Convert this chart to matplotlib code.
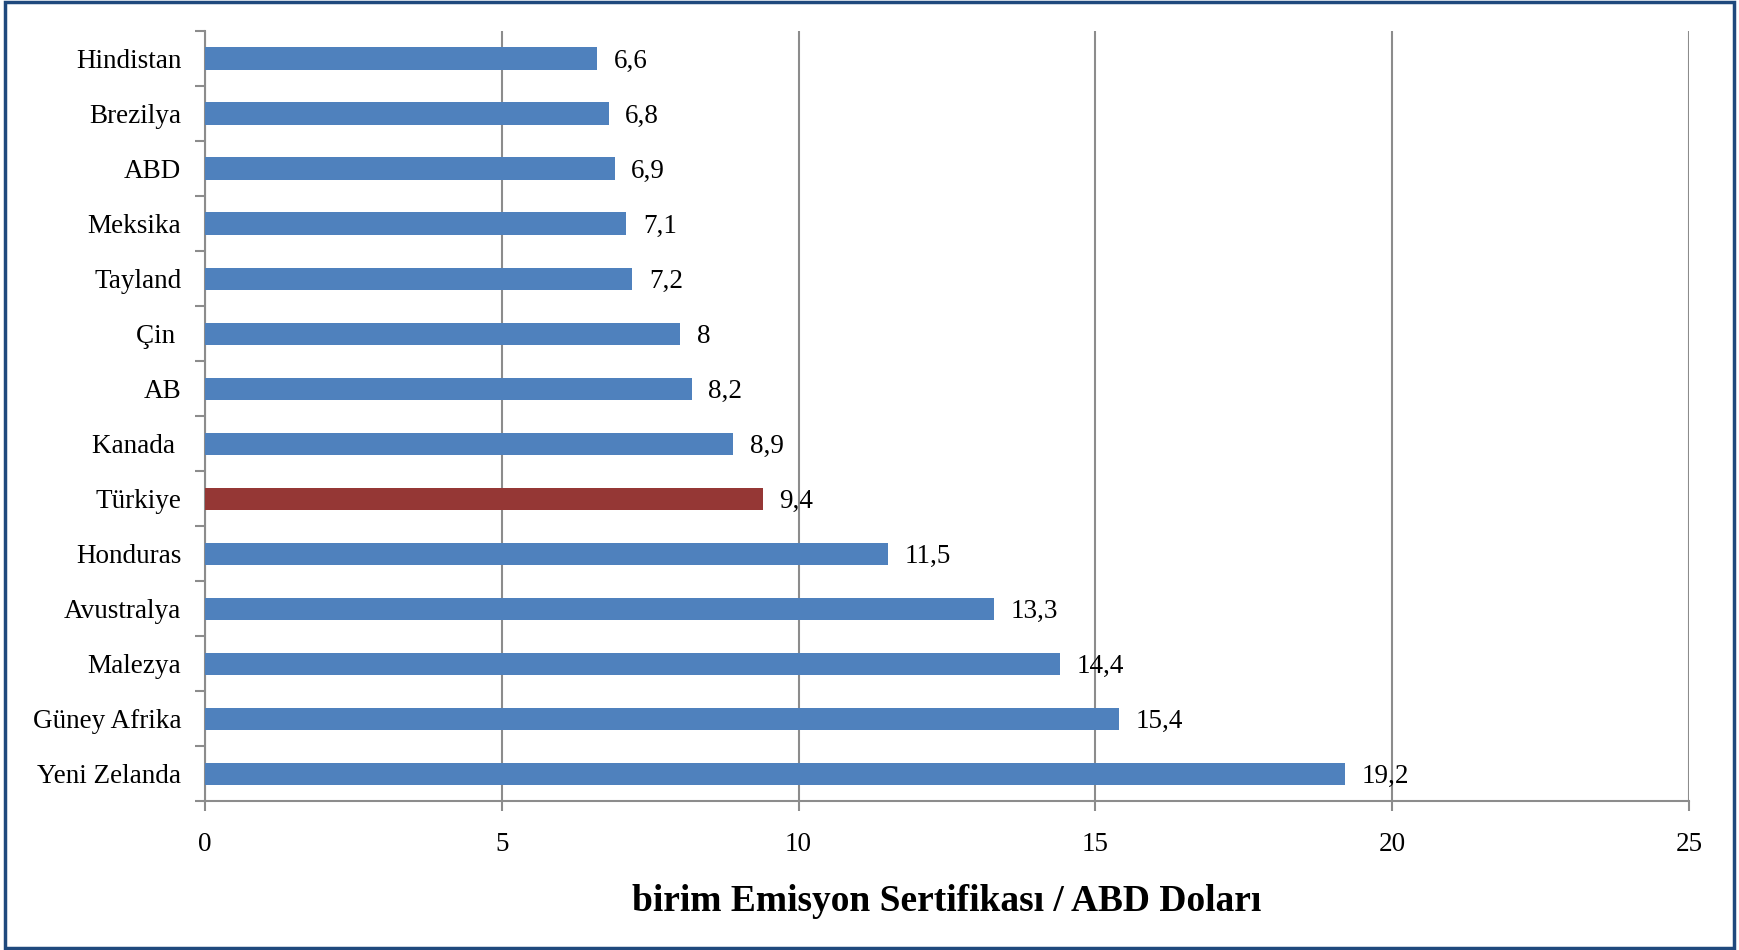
import matplotlib.pyplot as plt
import numpy as np

countries = ['Hindistan', 'Brezilya', 'ABD', 'Meksika', 'Tayland', 'Çin ', 'AB',
             'Kanada ', 'Türkiye', 'Honduras', 'Avustralya', 'Malezya',
             'Güney Afrika', 'Yeni Zelanda']
values = [6.6, 6.8, 6.9, 7.1, 7.2, 8, 8.2, 8.9, 9.4, 11.5, 13.3, 14.4, 15.4, 19.2]
highlight = 'Türkiye'
x_ticks = [0, 5, 10, 15, 20, 25]

plt.rcParams['font.family'] = ['Liberation Serif', 'DejaVu Serif']

fig = plt.figure(figsize=(17.39, 9.5), dpi=100)
ax = fig.add_axes([205 / 1739, 1 - 801 / 950, (1689 - 205) / 1739, (801 - 31) / 950])

n = len(countries)
ypos = np.arange(n)[::-1]
colors = ['#953735' if c == highlight else '#4F81BD' for c in countries]
ax.barh(ypos, values, height=0.4, color=colors, zorder=3)

for y, v in zip(ypos, values):
    ax.text(v + 0.28, y, f'{v:g}'.replace('.', ','), va='center_baseline', ha='left',
            fontsize=19.5, zorder=4)

ax.set_xlim(0, 25)
ax.set_ylim(-0.5, n - 0.5)
ax.set_xticks(x_ticks)
ax.set_xticklabels([str(t) for t in x_ticks], fontsize=19.5)
ax.set_yticks(ypos)
ax.set_yticklabels(countries, fontsize=19.5)
ax.set_yticks(np.arange(-0.5, n, 1), minor=True)
ax.tick_params(axis='y', which='major', length=0, pad=17)
ax.tick_params(axis='y', which='minor', length=7, width=1.5, color='#8c8c8c')
ax.tick_params(axis='x', which='major', length=7, width=1.5, color='#8c8c8c', pad=15)

ax.grid(axis='x', color='#8c8c8c', linewidth=1.5, zorder=0)
for side in ['top', 'right']:
    ax.spines[side].set_visible(False)
for side in ['left', 'bottom']:
    ax.spines[side].set_color('#8c8c8c')
    ax.spines[side].set_linewidth(1.5)

ax.set_xlabel('birim Emisyon Sertifikası / ABD Doları', fontsize=27,
              fontweight='bold', labelpad=20)

# dark blue frame around the figure
fig.patches.append(plt.Rectangle((0.003, 0.002), 0.994, 0.996, transform=fig.transFigure,
                                 fill=False, edgecolor='#1F497D', linewidth=2.5))

plt.savefig('out.png', dpi=100)
